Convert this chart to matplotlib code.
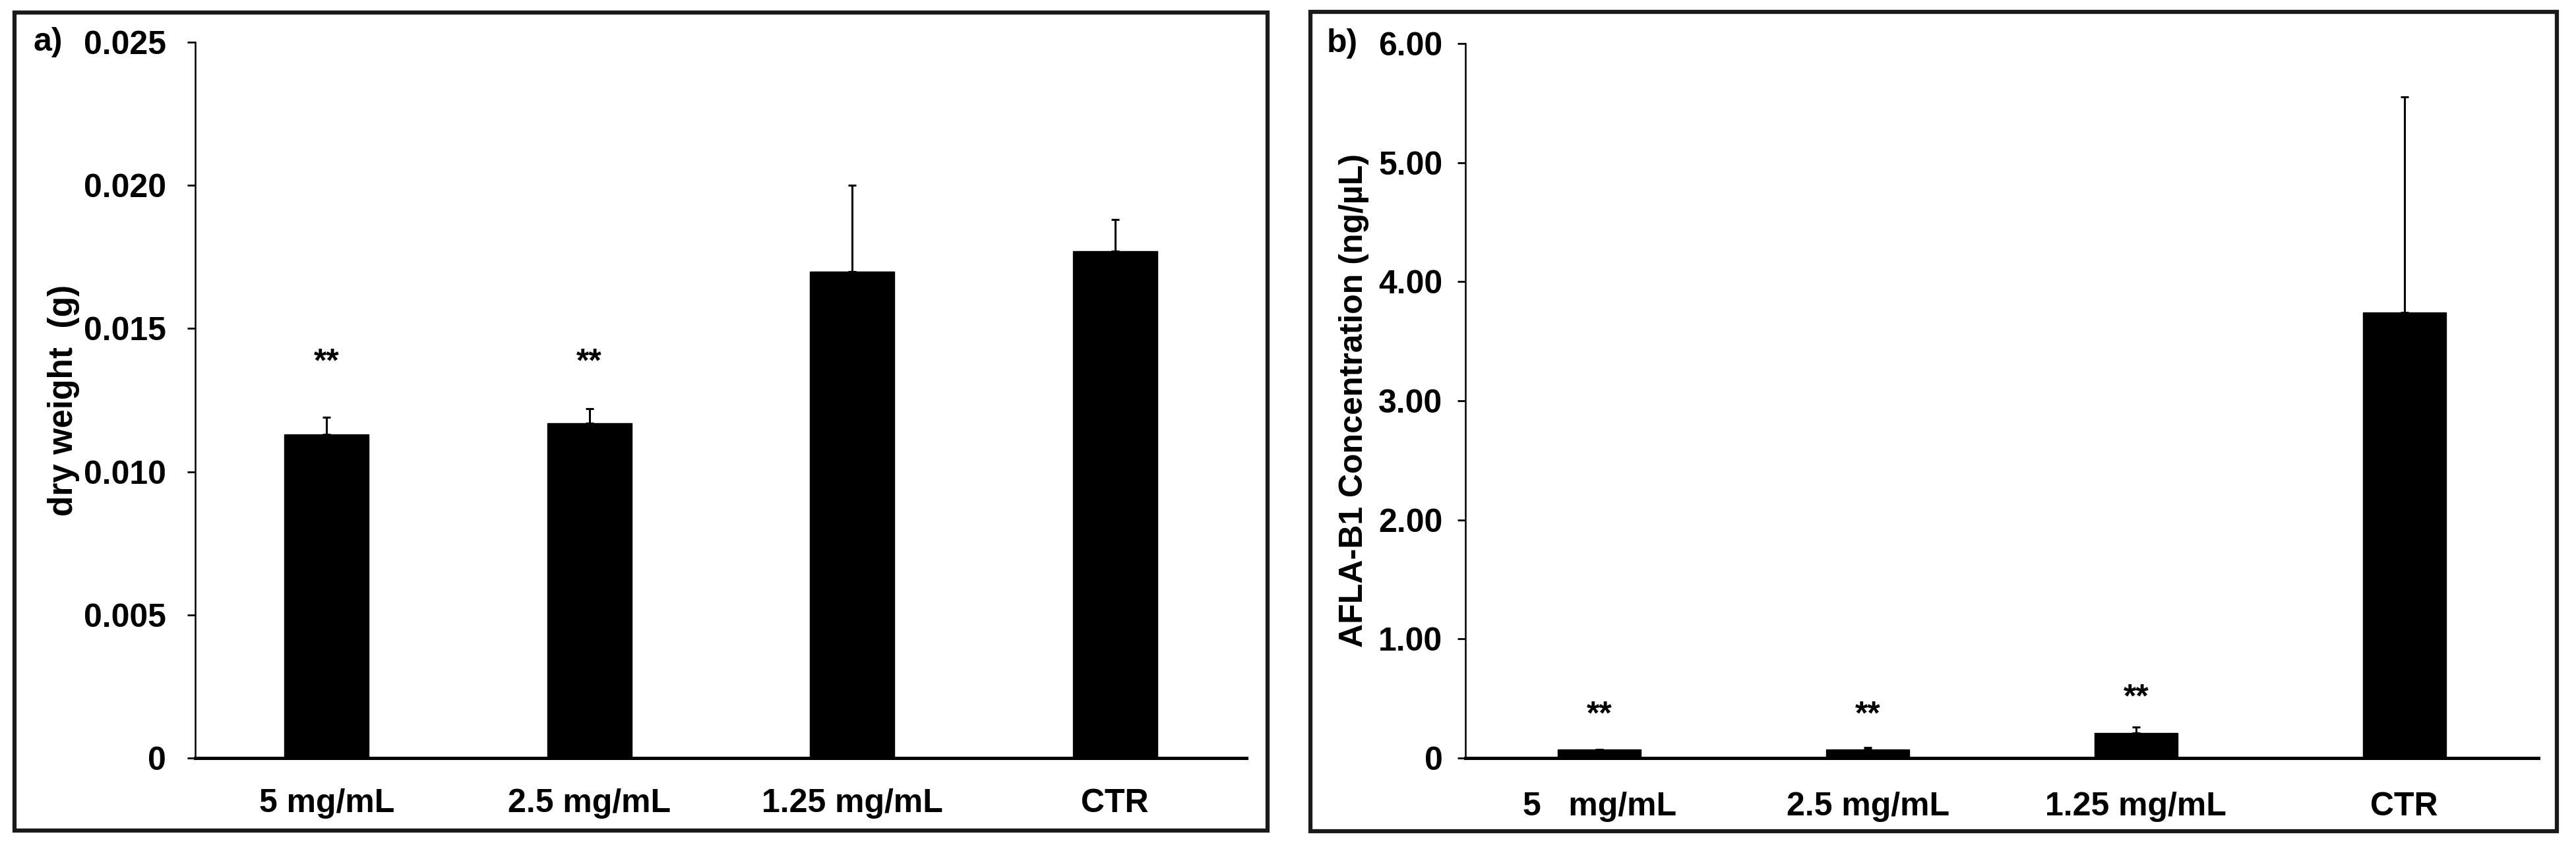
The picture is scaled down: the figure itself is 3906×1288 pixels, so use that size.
import matplotlib
matplotlib.use("Agg")
import matplotlib.pyplot as plt
from matplotlib.patches import Rectangle
import numpy as np

plt.rcParams['font.family'] = ['Liberation Sans', 'DejaVu Sans']
plt.rcParams['font.weight'] = 'bold'

# ---- data ----
cats_a = ["5 mg/mL", "2.5 mg/mL", "1.25 mg/mL", "CTR"]
dry_weight = [0.0113, 0.0117, 0.0170, 0.0177]
dry_weight_err = [0.0006, 0.0005, 0.0030, 0.0011]
stars_a = ["**", "**", "", ""]
stars_a_y = [0.0138, 0.0138, None, None]
yticks_a = [0, 0.005, 0.010, 0.015, 0.020, 0.025]
yticklabels_a = ["0", "0.005", "0.010", "0.015", "0.020", "0.025"]

cats_b = ["5   mg/mL", "2.5 mg/mL", "1.25 mg/mL", "CTR"]
afla = [0.07, 0.07, 0.21, 3.74]
afla_err = [0.0, 0.02, 0.05, 1.81]
stars_b = ["**", "**", "**", ""]
stars_b_y = [0.36, 0.36, 0.50, None]
yticks_b = [0, 1, 2, 3, 4, 5, 6]
yticklabels_b = ["0", "1.00", "2.00", "3.00", "4.00", "5.00", "6.00"]

W, H = 3906, 1288
fig = plt.figure(figsize=(W / 100, H / 100), dpi=100)

FS = 36

def px(x0, y0, x1, y1):
    return [x0 / W, 1 - y1 / H, (x1 - x0) / W, (y1 - y0) / H]

# outer frames
for (x0, y0, x1, y1) in [(22, 19, 1922, 1260), (1987, 18, 3877, 1261)]:
    fig.patches.append(Rectangle((x0 / W, 1 - y1 / H), (x1 - x0) / W, (y1 - y0) / H,
                                 transform=fig.transFigure, fill=False,
                                 edgecolor='#1a1a1a', linewidth=4.5, zorder=0))

def style(ax, ticks, labels, ylim, pad_y, pad_x):
    ax.set_xlim(-0.5, 3.5)
    ax.set_ylim(*ylim)
    for s in ['top', 'right']:
        ax.spines[s].set_visible(False)
    ax.spines['left'].set_linewidth(1.8)
    ax.spines['bottom'].set_linewidth(3.6)
    ax.set_yticks(ticks)
    ax.set_yticklabels(labels, fontsize=FS, fontweight='bold')
    ax.tick_params(axis='y', direction='out', length=9, width=2, pad=pad_y)
    ax.tick_params(axis='x', length=0, pad=pad_x, labelsize=FS)
    for t in ax.get_xticklabels():
        t.set_fontweight('bold')

# panel a
ax1 = fig.add_axes(px(296, 64, 1890, 1150))
x = np.arange(len(cats_a))
ax1.bar(x, dry_weight, width=0.32, color='black', edgecolor='black', zorder=2)
ax1.errorbar(x, dry_weight, yerr=[np.zeros(len(x)), dry_weight_err], fmt='none',
             ecolor='black', elinewidth=2.2, capsize=4, capthick=2.2, zorder=3)
ax1.set_xticks(x)
ax1.set_xticklabels(cats_a)
style(ax1, yticks_a, yticklabels_a, (0, 0.025), 23, 33)
for xi, s, yy in zip(x, stars_a, stars_a_y):
    if s:
        ax1.text(xi, yy, s, ha='center', va='center', fontsize=FS, fontweight='bold')
ax1.set_ylabel("dry weight  (g)", fontsize=37, fontweight='bold')
ax1.yaxis.set_label_coords(-0.110, 0.5)

# panel b
ax2 = fig.add_axes(px(2222, 66, 3849, 1150))
x = np.arange(len(cats_b))
ax2.bar(x, afla, width=0.31, color='black', edgecolor='black', zorder=2)
ax2.errorbar(x, afla, yerr=[np.zeros(len(x)), afla_err], fmt='none',
             ecolor='black', elinewidth=2.2, capsize=4, capthick=2.2, zorder=3)
ax2.set_xticks(x)
ax2.set_xticklabels(cats_b)
style(ax2, yticks_b, yticklabels_b, (0, 6), 16, 37)
for xi, s, yy in zip(x, stars_b, stars_b_y):
    if s:
        ax2.text(xi, yy, s, ha='center', va='center', fontsize=FS, fontweight='bold')
ax2.set_ylabel("AFLA-B1 Concentration (ng/µL)", fontsize=FS, fontweight='bold')
ax2.yaxis.set_label_coords(-0.090, 0.5)

fig.text(51 / W, 1 - 64 / H, "a)", fontsize=FS, fontweight='bold', ha='left', va='center')
fig.text(2012 / W, 1 - 66 / H, "b)", fontsize=FS, fontweight='bold', ha='left', va='center')

fig.savefig("out.png", dpi=100)
